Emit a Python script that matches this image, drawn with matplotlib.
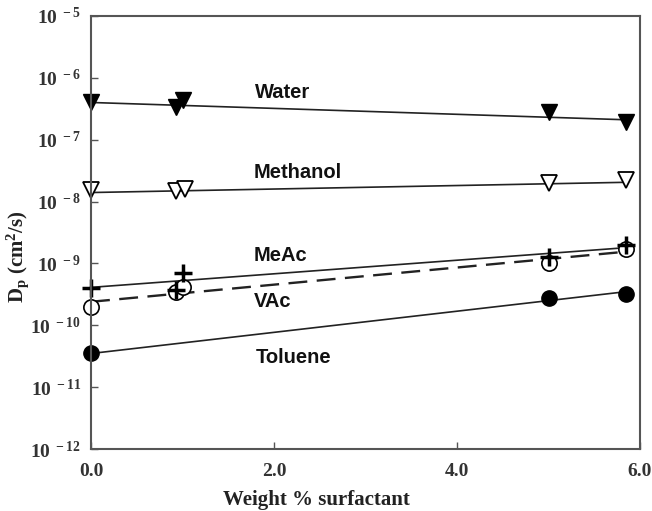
import matplotlib
matplotlib.use("Agg")
import matplotlib.pyplot as plt
import numpy as np
from matplotlib.ticker import FixedLocator, FuncFormatter

plt.rcParams['mathtext.fontset'] = 'custom'
plt.rcParams['mathtext.rm'] = 'Liberation Serif:bold'
plt.rcParams['mathtext.it'] = 'Liberation Serif:bold'
plt.rcParams['mathtext.bf'] = 'Liberation Serif:bold'

# Data points
water_x = [0.0, 0.93, 1.0, 5.0, 5.85]
water_y = [4.1e-7, 3.4e-7, 4.4e-7, 2.8e-7, 1.95e-7]
meth_x = [0.0, 0.93, 1.03, 5.0, 5.85]
meth_y = [1.55e-8, 1.5e-8, 1.6e-8, 2.0e-8, 2.25e-8]
meac_x = [0.0, 0.93, 1.0, 5.0, 5.85]
meac_y = [4.0e-10, 3.7e-10, 7.0e-10, 1.25e-9, 2.0e-9]
vac_x = [0.0, 0.93, 1.0, 5.0, 5.85]
vac_y = [1.95e-10, 3.5e-10, 4.2e-10, 1.0e-9, 1.7e-9]
tol_x = [0.0, 5.0, 5.85]
tol_y = [3.5e-11, 2.8e-10, 3.2e-10]

# Fit lines (endpoints)
fit_x = [0.0, 5.85]
water_fit = [4.0e-7, 2.1e-7]
meth_fit = [1.4e-8, 2.05e-8]
meac_fit = [4.1e-10, 1.8e-9]
vac_fit = [2.4e-10, 1.55e-9]
tol_fit = [3.5e-11, 3.5e-10]

labels = ["Water", "Methanol", "MeAc", "VAc", "Toluene"]
label_x = [2.09, 2.26, 2.07, 1.99, 2.21]
label_y = [5.7e-7, 3.0e-8, 1.35e-9, 2.45e-10, 3.0e-11]

x_ticks = [0.0, 2.0, 4.0, 6.0]
y_exps = [-12, -11, -10, -9, -8, -7, -6, -5]

fig = plt.figure(figsize=(6.52, 5.11), dpi=100)
ax = fig.add_axes([0.1396, 0.1213, 0.842, 0.8474])

lc = '#222222'
ax.plot(fit_x, water_fit, '-', color=lc, lw=1.2)
ax.plot(fit_x, meth_fit, '-', color=lc, lw=1.2)
ax.plot(fit_x, meac_fit, '-', color=lc, lw=1.2)
ax.plot(fit_x, vac_fit, '--', color=lc, lw=1.7, dashes=(8, 4))
ax.plot(fit_x, tol_fit, '-', color=lc, lw=1.2)

ax.plot(water_x, water_y, 'v', color='black', ms=11, ls='none', clip_on=False)
ax.plot(meth_x, meth_y, 'v', mfc='white', mec='black', mew=1.3, ms=11, ls='none', clip_on=False)
ax.plot(vac_x, vac_y, 'o', mfc='white', mec='black', mew=1.2, ms=11, ls='none', clip_on=False)
ax.plot(meac_x, meac_y, '+', color='black', mew=2.5, ms=13, ls='none', clip_on=False)
ax.plot(tol_x, tol_y, 'o', color='black', ms=11, ls='none', clip_on=False)

for t, lx, ly in zip(labels, label_x, label_y):
    ax.text(lx, ly, t, ha='center', va='center', fontsize=14.5, fontweight='bold',
            family='Liberation Sans', color='#111111')

ax.set_yscale('log')
ax.set_xlim(0, 6)
ax.set_ylim(1e-12, 1e-5)
ax.xaxis.set_major_locator(FixedLocator(x_ticks))
ax.xaxis.set_major_formatter(FuncFormatter(lambda v, p: f"{v:.1f}"))
ax.yaxis.set_major_locator(FixedLocator([10.0**e for e in y_exps]))
ax.yaxis.set_minor_locator(FixedLocator([]))
ax.yaxis.set_major_formatter(FuncFormatter(lambda v, p: r"$\mathrm{10}^{\ %d}$" % int(round(np.log10(v)))))

ax.tick_params(axis='both', direction='in', length=5, width=1, colors='#555555',
               labelcolor='#333333', labelsize=14, pad=10)
ax.tick_params(axis='y', labelsize=14, pad=7)
for lab in ax.get_xticklabels():
    lab.set_family('Liberation Serif')
    lab.set_fontweight('bold')
for s in ax.spines.values():
    s.set_color('#555555')
    s.set_linewidth(1.5)

ax.set_xlabel('Weight % surfactant', fontsize=15, fontweight='bold',
              family='Liberation Serif', color='#222222')
ax.xaxis.set_label_coords(0.41, -0.094)
ax.set_ylabel(r'D$_\mathrm{p}$ (cm$^\mathrm{2}$/s)', fontsize=15, fontweight='bold',
              family='Liberation Serif', color='#222222')
ax.yaxis.set_label_coords(-0.11, 0.443)

fig.savefig('out.png', dpi=100)
